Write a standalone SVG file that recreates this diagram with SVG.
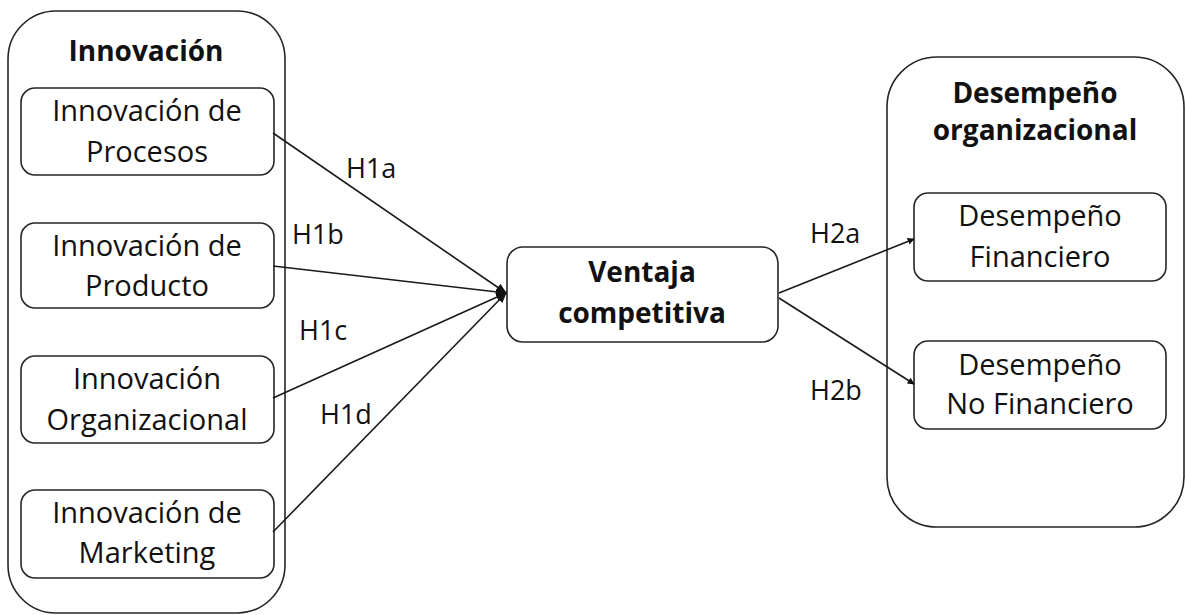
<svg xmlns="http://www.w3.org/2000/svg" width="1185" height="615" viewBox="0 0 1185 615">
<defs>
<style>
.box{fill:#fff;stroke:#262626;stroke-width:1.6}
.t{font-family:"Open Sans","Liberation Sans",sans-serif;font-size:29px;fill:#111;text-anchor:middle}
.b{font-weight:bold;font-size:28px}
.lbl{font-family:"Open Sans","Liberation Sans",sans-serif;font-size:27px;fill:#111}
.ln{stroke:#1a1a1a;stroke-width:1.6;fill:none}
</style>
<marker id="ah" viewBox="0 0 10 10" refX="9" refY="5" markerWidth="7" markerHeight="7" markerUnits="userSpaceOnUse" orient="auto"><path d="M0,0 L10,5 L0,10 z" fill="#111"/></marker>
<marker id="ahs" viewBox="0 0 10 10" refX="9" refY="5" markerWidth="11" markerHeight="11" markerUnits="userSpaceOnUse" orient="auto"><path d="M0,1 L10,5 L0,9 z" fill="#111"/></marker>
</defs>
<rect width="1185" height="615" fill="#fff"/>
<g id="innovacion">
<rect class="box" x="8" y="11" width="277" height="602" rx="48"/>
<text class="t b" x="146" y="61">Innovación</text>
</g>
<g id="procesos">
<rect class="box" x="21" y="88" width="253" height="87" rx="14"/>
<text class="t" x="147" y="121">Innovación de</text>
<text class="t" x="147" y="162">Procesos</text>
</g>
<g id="producto">
<rect class="box" x="21" y="223" width="253" height="85" rx="14"/>
<text class="t" x="147" y="256">Innovación de</text>
<text class="t" x="147" y="296">Producto</text>
</g>
<g id="organizacional">
<rect class="box" x="21" y="356" width="253" height="87" rx="14"/>
<text class="t" x="147" y="389">Innovación</text>
<text class="t" x="147" y="430">Organizacional</text>
</g>
<g id="marketing">
<rect class="box" x="21" y="490" width="253" height="88" rx="14"/>
<text class="t" x="147" y="523">Innovación de</text>
<text class="t" x="147" y="563">Marketing</text>
</g>
<g id="ventaja">
<rect class="box" x="507" y="247" width="271" height="95" rx="16"/>
<text class="t b" x="642" y="282">Ventaja</text>
<text class="t b" x="642" y="323">competitiva</text>
</g>
<g id="desempeno">
<rect class="box" x="887" y="57" width="297" height="470" rx="50"/>
<text class="t b" x="1035" y="103">Desempeño</text>
<text class="t b" x="1035" y="140">organizacional</text>
</g>
<g id="financiero">
<rect class="box" x="914" y="193" width="252" height="88" rx="14"/>
<text class="t" x="1040" y="226">Desempeño</text>
<text class="t" x="1040" y="267">Financiero</text>
</g>
<g id="nofinanciero">
<rect class="box" x="914" y="341" width="252" height="88" rx="14"/>
<text class="t" x="1040" y="375">Desempeño</text>
<text class="t" x="1040" y="414">No Financiero</text>
</g>
<g id="connectors">
<line class="ln" x1="273" y1="133" x2="506" y2="293" marker-end="url(#ahs)"/>
<line class="ln" x1="273" y1="266" x2="506" y2="293" marker-end="url(#ahs)"/>
<line class="ln" x1="273" y1="398" x2="506" y2="293" marker-end="url(#ahs)"/>
<line class="ln" x1="273" y1="532" x2="506" y2="293" marker-end="url(#ahs)"/>
<line class="ln" x1="779" y1="293" x2="914" y2="239" marker-end="url(#ah)"/>
<line class="ln" x1="779" y1="298" x2="914" y2="384" marker-end="url(#ah)"/>
<text class="lbl" x="346" y="178">H1a</text>
<text class="lbl" x="292" y="244">H1b</text>
<text class="lbl" x="299" y="340">H1c</text>
<text class="lbl" x="320" y="424">H1d</text>
<text class="lbl" x="810" y="243">H2a</text>
<text class="lbl" x="810" y="400">H2b</text>
</g>
</svg>
